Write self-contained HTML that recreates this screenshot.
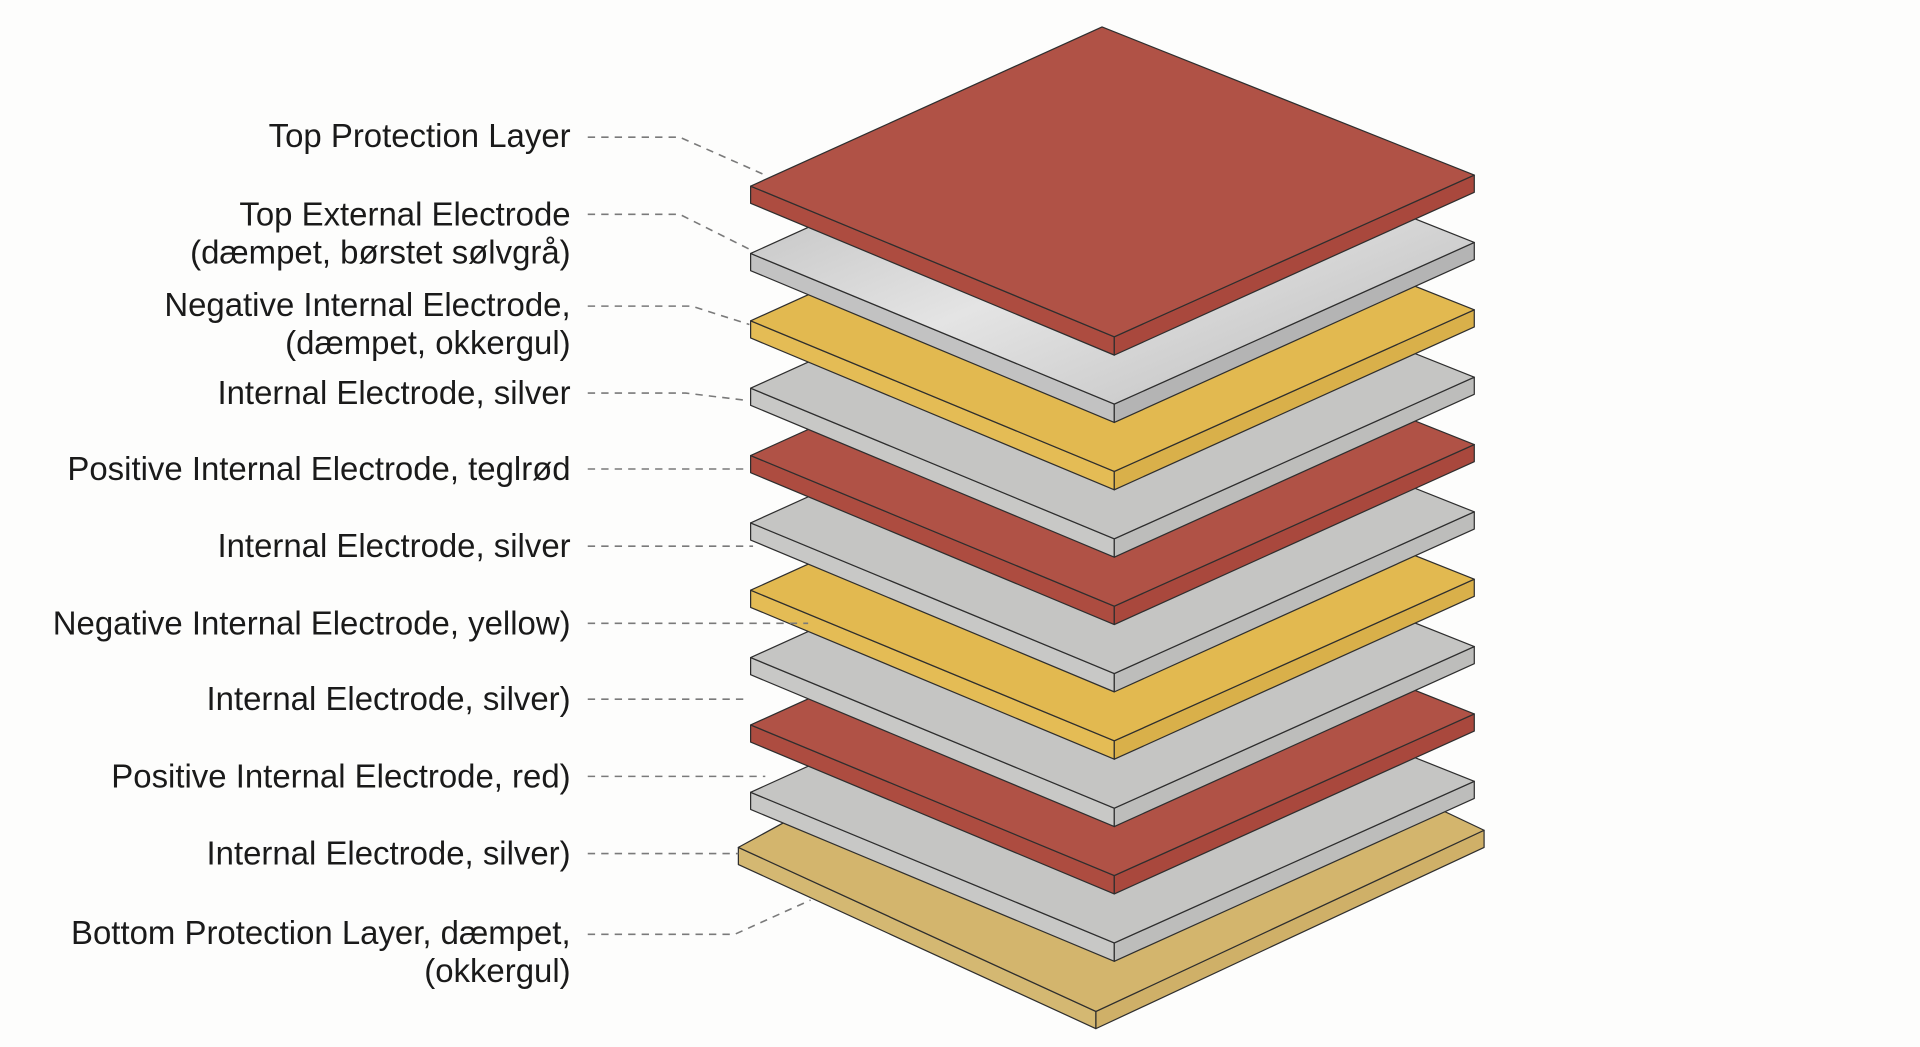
<!DOCTYPE html>
<html><head><meta charset="utf-8"><style>
html,body{margin:0;padding:0;background:#fdfdfc;}
svg{display:block}
text{font-family:"Liberation Sans",sans-serif;font-size:26.9px;fill:#1a1a1a;text-anchor:end}
</style></head><body>
<svg width="1920" height="1047" viewBox="0 0 1568 855" preserveAspectRatio="none" xmlns="http://www.w3.org/2000/svg">
<defs>
<linearGradient id="brushed" x1="0" y1="0" x2="1" y2="1">
<stop offset="0" stop-color="#b4b4b4"/><stop offset="0.5" stop-color="#e4e4e4"/><stop offset="1" stop-color="#b8b8b8"/>
</linearGradient>
<g id="sv"><polygon points="613,152 910,275 910,290 613,166" fill="#c8c8c6"/><polygon points="910,275 1204,143 1204,157 910,290" fill="#bdbdbb"/><polygon points="613,152 900,22 1204,143 910,275" fill="#c5c5c3"/></g>
<g id="rd"><polygon points="613,152 910,275 910,290 613,166" fill="#ad4c40"/><polygon points="910,275 1204,143 1204,157 910,290" fill="#a9483d"/><polygon points="613,152 900,22 1204,143 910,275" fill="#b05246"/></g>
<g id="yl"><polygon points="613,152 910,275 910,290 613,166" fill="#e4bc55"/><polygon points="910,275 1204,143 1204,157 910,290" fill="#d9b04a"/><polygon points="613,152 900,22 1204,143 910,275" fill="#e2b950"/></g>
<g id="br"><polygon points="613,152 910,275 910,290 613,166" fill="#c2c2c2"/><polygon points="910,275 1204,143 1204,157 910,290" fill="#b4b4b4"/><polygon points="613,152 900,22 1204,143 910,275" fill="url(#brushed)"/></g>
</defs>
<g stroke="#2e2e2e" stroke-width="1" stroke-linejoin="round">
<g transform="translate(0,540)">
<polygon points="603,152 895,286 895,300 603,166" fill="#d4b872"/>
<polygon points="895,286 1212,138 1212,152 895,300" fill="#cfb068"/>
<polygon points="603,152 900,-10 1212,138 895,286" fill="#d3b56d"/>
</g>
<use href="#sv" y="495"/>
<use href="#rd" y="440"/>
<use href="#sv" y="385"/>
<use href="#yl" y="330"/>
<use href="#sv" y="275"/>
<use href="#rd" y="220"/>
<use href="#sv" y="165"/>
<use href="#yl" y="110"/>
<use href="#br" y="55"/>
<use href="#rd" y="0"/>
</g>
<g fill="none" stroke="#7a7a7a" stroke-width="1.3" stroke-dasharray="6,5">
<polyline points="480,112 555,112 625,143"/>
<polyline points="480,175 555,175 615,205"/>
<polyline points="480,250 565,250 612,265"/>
<polyline points="480,321 560,321 610,327"/>
<polyline points="480,383 612,383"/>
<polyline points="480,446 615,446"/>
<polyline points="480,509 660,509"/>
<polyline points="480,571 612,571"/>
<polyline points="480,634 625,634"/>
<polyline points="480,697 603,697"/>
<polyline points="480,763 600,763 662,735"/>
</g>
<text x="466" y="120">Top Protection Layer</text>
<text x="466" y="184">Top External Electrode</text>
<text x="466" y="215">(dæmpet, børstet sølvgrå)</text>
<text x="466" y="258">Negative Internal Electrode,</text>
<text x="466" y="289">(dæmpet, okkergul)</text>
<text x="466" y="330">Internal Electrode, silver</text>
<text x="466" y="392">Positive Internal Electrode, teglrød</text>
<text x="466" y="455">Internal Electrode, silver</text>
<text x="466" y="518">Negative Internal Electrode, yellow)</text>
<text x="466" y="580">Internal Electrode, silver)</text>
<text x="466" y="643">Positive Internal Electrode, red)</text>
<text x="466" y="706">Internal Electrode, silver)</text>
<text x="466" y="771">Bottom Protection Layer, dæmpet,</text>
<text x="466" y="802">(okkergul)</text>
</svg>
</body></html>
